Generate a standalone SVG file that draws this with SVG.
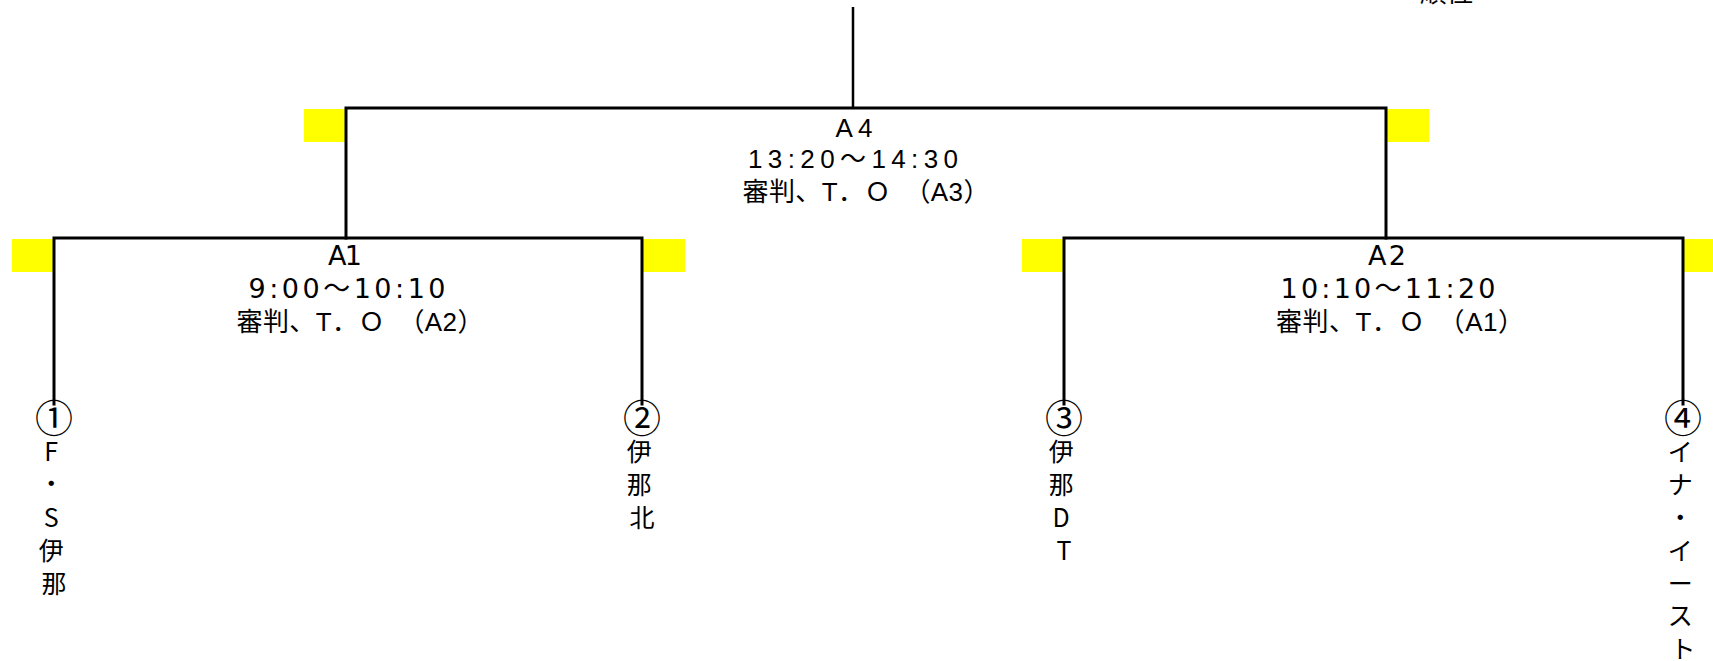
<svg xmlns="http://www.w3.org/2000/svg" width="1713" height="661" viewBox="0 0 1713 661">
<style>
  .bg { fill: #ffffff; }
  .seed { fill: #ffff00; stroke: none; }
  .ln { fill: none; stroke: #000000; stroke-width: 3; stroke-linecap: square; stroke-linejoin: miter; }
  .top { fill: none; stroke: #000000; stroke-width: 2.5; }
  .t { font-family: "Liberation Sans", "Noto Sans CJK JP", sans-serif; font-size: 26px; fill: #000000; }
  .w { font-family: "DejaVu Sans", "Noto Sans CJK JP", sans-serif; font-size: 27px; fill: #000000; }
  .v { font-family: "Noto Sans CJK JP", "Liberation Sans", sans-serif; font-size: 25px; fill: #000000; text-anchor: middle; }
  .n { font-family: "Noto Sans CJK JP", sans-serif; font-size: 38px; fill: #000000; text-anchor: middle; }
  .c { text-anchor: middle; }
</style>
<rect class="bg" x="0" y="0" width="1713" height="661"/>

<g id="seeds">
  <rect class="seed" x="304" y="109" width="42" height="33"/>
  <rect class="seed" x="1387" y="109" width="42" height="33"/>
  <rect class="seed" x="12" y="239" width="42" height="33"/>
  <rect class="seed" x="643" y="239" width="42" height="33"/>
  <rect class="seed" x="1022" y="239" width="42" height="33"/>
  <rect class="seed" x="1684" y="239" width="29" height="33"/>
</g>

<g id="connectors">
  <path class="top" d="M853 7 V108"/>
  <path class="ln" d="M346 238 V108 H1386 V238"/>
  <path class="ln" d="M54 404 V238 H642 V404"/>
  <path class="ln" d="M1064 404 V238 H1683 V404"/>
</g>

<g id="header">
  <text class="t" x="1420" y="2" textLength="53" lengthAdjust="spacingAndGlyphs">順位</text>
</g>

<g id="match-A4">
  <text class="t c" x="854" y="137" textLength="37" lengthAdjust="spacing">A4</text>
  <text class="t c" x="853" y="168" textLength="210" lengthAdjust="spacing">13:20～14:30</text>
  <text class="t c" x="866" y="201" textLength="247" lengthAdjust="spacing">審判、T．Ｏ　（A3）</text>
</g>

<g id="match-A1">
  <text class="w c" x="345" y="265" textLength="34" lengthAdjust="spacing">A1</text>
  <text class="w c" x="347" y="298" textLength="197" lengthAdjust="spacing">9:00～10:10</text>
  <text class="t c" x="360" y="331" textLength="247" lengthAdjust="spacing">審判、T．Ｏ　（A2）</text>
</g>

<g id="match-A2">
  <text class="w c" x="1387" y="265" textLength="38" lengthAdjust="spacing">A2</text>
  <text class="w c" x="1388" y="298" textLength="215" lengthAdjust="spacing">10:10～11:20</text>
  <text class="t c" x="1400" y="331" textLength="248" lengthAdjust="spacing">審判、T．Ｏ　（A1）</text>
</g>

<g id="team-1">
  <text class="n" x="54" y="432">①</text>
  <text class="v">
    <tspan x="54" y="461">F</tspan>
    <tspan x="54" y="493">・</tspan>
    <tspan x="54" y="527">S</tspan>
    <tspan x="54" y="560">伊</tspan>
    <tspan x="54" y="593">那</tspan>
  </text>
</g>

<g id="team-2">
  <text class="n" x="642" y="432">②</text>
  <text class="v">
    <tspan x="642" y="461">伊</tspan>
    <tspan x="642" y="494">那</tspan>
    <tspan x="642" y="527">北</tspan>
  </text>
</g>

<g id="team-3">
  <text class="n" x="1064" y="432">③</text>
  <text class="v">
    <tspan x="1064" y="461">伊</tspan>
    <tspan x="1064" y="494">那</tspan>
    <tspan x="1064" y="527">D</tspan>
    <tspan x="1064" y="560">T</tspan>
  </text>
</g>

<g id="team-4">
  <text class="n" x="1683" y="432">④</text>
  <text class="v">
    <tspan x="1683" y="461">イ</tspan>
    <tspan x="1683" y="494">ナ</tspan>
    <tspan x="1683" y="527">・</tspan>
    <tspan x="1683" y="560">イ</tspan>
    <tspan x="1683" y="593">ー</tspan>
    <tspan x="1683" y="625">ス</tspan>
    <tspan x="1683" y="658">ト</tspan>
  </text>
</g>
</svg>
